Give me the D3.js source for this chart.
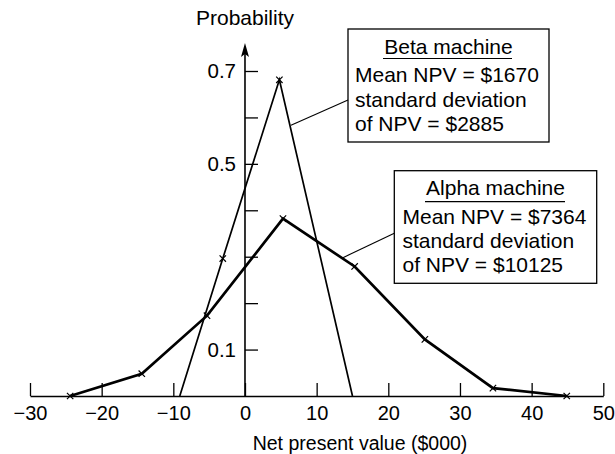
<!DOCTYPE html>
<html>
<head>
<meta charset="utf-8">
<script src="https://cdn.jsdelivr.net/npm/d3@7"></script>
<style>
  html, body { margin: 0; padding: 0; background: #fff; }
  svg { display: block; font-family: "Liberation Sans", Arial, Helvetica, sans-serif; }
</style>
</head>
<body>
<svg id="chart" width="615" height="454"></svg>
<script>
// ---- data ----
const alphaX = [-24.4, -14.4, -5.3, 5.3, 15.3, 25.1, 34.6, 44.9];
const alphaY = [0, 0.048, 0.173, 0.382, 0.279, 0.122, 0.017, 0];
const alphaMarked = [true, true, true, true, true, true, true, true];

const betaX = [-9.1, -3.1, 4.8, 15.0];
const betaY = [0, 0.296, 0.681, 0];
const betaMarked = [false, true, true, false];

const xTicks = [-30, -20, -10, 0, 10, 20, 30, 40, 50];
const yTicks = [0.1, 0.2, 0.3, 0.4, 0.5, 0.6, 0.7];
const yTickLabels = ["0.1", "", "", "", "0.5", "", "0.7"];

const yAxisTitle = "Probability";
const xAxisTitle = "Net present value ($000)";

const betaBoxLines = ["Beta machine", "Mean NPV = $1670", "standard deviation", "of NPV = $2885"];
const alphaBoxLines = ["Alpha machine", "Mean NPV = $7364", "standard deviation", "of NPV = $10125"];
// leader anchor points on each curve (data coords)
const betaAnchor = [6.42, 0.583];
const alphaAnchor = [13.67, 0.298];

// ---- layout ----
const svg = d3.select("#chart");
const x = d3.scaleLinear().domain([-30, 50]).range([30, 603.3]);
const y = d3.scaleLinear().domain([0, 0.7]).range([396, 71]);
const FS = 20;

// X axis
const xAxis = d3.axisBottom(x)
  .tickValues(xTicks)
  .tickSizeInner(-13)
  .tickSizeOuter(0)
  .tickPadding(10)
  .tickFormat(d => d < 0 ? "\u2212" + Math.abs(d) : String(d));
const gx = svg.append("g").attr("transform", `translate(0,${y(0)})`).call(xAxis);
gx.select(".domain").attr("stroke", "#000").attr("stroke-width", 1.6);
gx.selectAll(".tick line").attr("stroke", "#000").attr("stroke-width", 1.3);
gx.selectAll(".tick text").attr("fill", "#000").attr("font-size", FS)
  .attr("font-family", "Liberation Sans, Arial, sans-serif");

// Y axis
const yAxis = d3.axisLeft(y)
  .tickValues(yTicks)
  .tickSizeInner(-13)
  .tickSizeOuter(0)
  .tickPadding(9)
  .tickFormat((d, i) => yTickLabels[i]);
const gy = svg.append("g").attr("transform", `translate(${x(0)},0)`).call(yAxis);
gy.select(".domain").remove();
gy.selectAll(".tick line").attr("stroke", "#000").attr("stroke-width", 1.3);
gy.selectAll(".tick text").attr("fill", "#000").attr("font-size", 20.5)
  .attr("font-family", "Liberation Sans, Arial, sans-serif");

// y-axis line with arrow
const arrowTop = 43;
svg.append("line")
  .attr("x1", x(0)).attr("x2", x(0))
  .attr("y1", y(0)).attr("y2", arrowTop + 8)
  .attr("stroke", "#000").attr("stroke-width", 1.6);
svg.append("path")
  .attr("d", `M${x(0)},${arrowTop} L${x(0) - 4},${arrowTop + 14} L${x(0)},${arrowTop + 11} L${x(0) + 4},${arrowTop + 14} Z`)
  .attr("fill", "#000");

// axis titles
svg.append("text").attr("x", x(0)).attr("y", 25)
  .attr("text-anchor", "middle").attr("font-size", 21).text(yAxisTitle);
svg.append("text").attr("x", 360).attr("y", 450)
  .attr("text-anchor", "middle").attr("font-size", 19.5).text(xAxisTitle);

// lines
const line = d3.line().x(d => x(d[0])).y(d => y(d[1]));
const betaPts = betaX.map((v, i) => [v, betaY[i]]);
const alphaPts = alphaX.map((v, i) => [v, alphaY[i]]);

svg.append("path").datum(betaPts).attr("d", line)
  .attr("fill", "none").attr("stroke", "#000").attr("stroke-width", 1.7)
  .attr("stroke-linejoin", "miter");
svg.append("path").datum(alphaPts).attr("d", line)
  .attr("fill", "none").attr("stroke", "#000").attr("stroke-width", 2.7)
  .attr("stroke-linejoin", "miter");

// markers (x)
function drawMarkers(pts, flags) {
  const s = 3.2;
  svg.append("g").selectAll("path")
    .data(pts.filter((d, i) => flags[i]))
    .join("path")
    .attr("d", d => {
      const cx = x(d[0]), cy = y(d[1]);
      return `M${cx - s},${cy - s}L${cx + s},${cy + s}M${cx - s},${cy + s}L${cx + s},${cy - s}`;
    })
    .attr("stroke", "#000").attr("stroke-width", 1.2);
}
drawMarkers(betaPts, betaMarked);
drawMarkers(alphaPts, alphaMarked);

// annotation boxes
function box(lines, bx, by, bw, bh, textX, baselines, underline, anchor) {
  const g = svg.append("g");
  g.append("rect").attr("x", bx).attr("y", by).attr("width", bw).attr("height", bh)
    .attr("fill", "#fff").attr("stroke", "#000").attr("stroke-width", 1.3);
  g.append("text").attr("x", bx + bw / 2).attr("y", baselines[0])
    .attr("text-anchor", "middle").attr("font-size", 21).text(lines[0]);
  g.append("line").attr("x1", underline[0]).attr("x2", underline[1])
    .attr("y1", underline[2]).attr("y2", underline[2])
    .attr("stroke", "#000").attr("stroke-width", 1.2);
  for (let i = 1; i < lines.length; i++) {
    g.append("text").attr("x", textX).attr("y", baselines[i])
      .attr("font-size", 21).text(lines[i]);
  }
  // leader
  svg.append("line")
    .attr("x1", x(anchor[0])).attr("y1", y(anchor[1]))
    .attr("x2", anchor[2]).attr("y2", anchor[3])
    .attr("stroke", "#000").attr("stroke-width", 1.1);
}
box(betaBoxLines, 348, 29, 201, 113, 355, [54.3, 82.3, 107, 131], [383, 512, 58.5],
    [betaAnchor[0], betaAnchor[1], 348, 100]);
box(alphaBoxLines, 394.3, 170.7, 202.4, 112.6, 402.5, [194.5, 224, 248, 272], [425, 565, 201.7],
    [alphaAnchor[0], alphaAnchor[1], 394.3, 233.3]);
</script>
</body>
</html>
